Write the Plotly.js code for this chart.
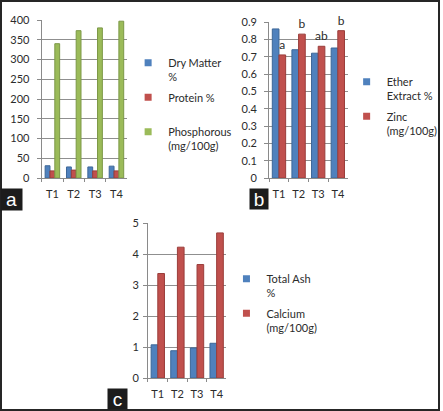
<!DOCTYPE html>
<html><head><meta charset="utf-8">
<script src="https://cdn.plot.ly/plotly-3.0.1.min.js"></script>
<style>html,body{margin:0;padding:0;background:#fff}#chart{width:443px;height:411px}</style>
</head><body><div id="chart"></div>
<script>
// ---- data ----
const treatments = ['T1', 'T2', 'T3', 'T4'];
// panel a
const dryMatter = [31, 28, 28, 30];
const protein = [18, 20, 18, 18];
const phosphorous = [340, 373, 380, 397];
const namesA = ['Dry Matter<br>%', 'Protein %<br>&nbsp;', 'Phosphorous<br>(mg/100g)'];
// panel b
const etherExtract = [0.86, 0.74, 0.72, 0.75];
const zinc = [0.71, 0.83, 0.76, 0.85];
const zincLetters = ['a', 'b', 'ab', 'b'];
const namesB = ['Ether<br>Extract %', 'Zinc<br>(mg/100g)'];
// panel c
const totalAsh = [1.07, 0.88, 0.97, 1.12];
const calcium = [3.37, 4.22, 3.66, 4.68];
const namesC = ['Total Ash<br>%', 'Calcium<br>(mg/100g)'];
const panelLabels = ['a', 'b', 'c'];

// ---- styles ----
const BLUE = '#4F81BD', RED = '#C0504D', GREEN = '#9BBB59';
const EDGE = {[BLUE]: '#3d6797', [RED]: '#9a3d3a', [GREEN]: '#7c9846'};
const FONT = 'Lato, "Open Sans", "Liberation Sans", sans-serif';
const TXT = '#2b2b2b';

function bar(y, color, xa, ya, extra) {
  return Object.assign({
    type: 'bar', x: treatments, y: y, xaxis: xa, yaxis: ya,
    marker: {color: color, line: {color: EDGE[color], width: 1}},
    showlegend: false, hoverinfo: 'x+y'
  }, extra || {});
}
function key(name, color, xa, ya, legend) {
  return {type: 'scatter', mode: 'markers', x: [null], y: [null], xaxis: xa, yaxis: ya,
    name: name, legend: legend, legendgroup: name,
    marker: {symbol: 'square', size: 7, color: color}, hoverinfo: 'skip'};
}

const traces = [
  bar(dryMatter, BLUE, 'x', 'y'),
  bar(protein, RED, 'x', 'y'),
  bar(phosphorous, GREEN, 'x', 'y'),
  bar(etherExtract, BLUE, 'x2', 'y2'),
  bar(zinc, RED, 'x2', 'y2', {text: zincLetters, textposition: 'outside', cliponaxis: false,
      constraintext: 'none', textfont: {family: FONT, size: 12, color: TXT}}),
  bar(totalAsh, BLUE, 'x3', 'y3'),
  bar(calcium, RED, 'x3', 'y3'),
  key(namesA[0], BLUE, 'x', 'y', 'legend'),
  key(namesA[1], RED, 'x', 'y', 'legend'),
  key(namesA[2], GREEN, 'x', 'y', 'legend'),
  key(namesB[0], BLUE, 'x2', 'y2', 'legend2'),
  key(namesB[1], RED, 'x2', 'y2', 'legend2'),
  key(namesC[0], BLUE, 'x3', 'y3', 'legend3'),
  key(namesC[1], RED, 'x3', 'y3', 'legend3')
];

const W = 443, H = 411;
const px = v => v / W, py = v => 1 - v / H;

function xAxis(l, r, anchor) {
  return {domain: [px(l), px(r)], anchor: anchor, type: 'category',
    showline: true, linecolor: '#8a8a8a', linewidth: 1,
    ticks: 'outside', ticklen: 3, tickcolor: '#8a8a8a', tickson: 'boundaries',
    tickangle: 0, ticklabelstandoff: 6, showgrid: false,
    tickfont: {family: FONT, size: 11, color: TXT}, fixedrange: true};
}
function yAxis(t, b, anchor, range, dtick, standoff) {
  return {domain: [py(b), py(t)], anchor: anchor, range: range, dtick: dtick,
    showline: true, linecolor: '#8a8a8a', linewidth: 1,
    ticks: 'outside', ticklen: 4, tickcolor: '#8a8a8a',
    showgrid: true, gridcolor: '#8f8f8f', gridwidth: 1, zeroline: false,
    ticklabelstandoff: standoff,
    tickfont: {family: FONT, size: 11, color: TXT}, fixedrange: true};
}
function legendAt(l, t) {
  return {x: px(l), y: py(t), xanchor: 'left', yanchor: 'top', bgcolor: 'rgba(0,0,0,0)',
    borderwidth: 0, valign: 'top', tracegroupgap: 3, itemclick: false, itemdoubleclick: false,
    font: {family: FONT, size: 11, color: TXT}};
}
function tag(text, l, t, w, h) {
  return {text: text, xref: 'paper', yref: 'paper', x: px(l), y: py(t),
    xanchor: 'left', yanchor: 'top', showarrow: false, width: w, height: h,
    bgcolor: '#1c1c1c', borderpad: 0, align: 'center', valign: 'middle',
    font: {family: '"Liberation Sans", Arial, sans-serif', size: 19, color: '#ffffff'}};
}

const layout = {
  width: W, height: H, margin: {l: 0, r: 0, t: 0, b: 0},
  paper_bgcolor: '#fff', plot_bgcolor: 'rgba(0,0,0,0)',
  barmode: 'group', bargap: 0.32, bargroupgap: 0,
  font: {family: FONT, color: TXT},
  xaxis: xAxis(42, 128, 'y'),
  yaxis: yAxis(20, 178, 'x', [0, 400], 50, 5),
  xaxis2: xAxis(271, 350, 'y2'),
  yaxis2: yAxis(22, 178, 'x2', [0, 0.9], 0.1, 5),
  xaxis3: xAxis(149, 228, 'y3'),
  yaxis3: yAxis(223, 378, 'x3', [0, 5], 1, 2),
  legend: legendAt(129, 49),
  legend2: legendAt(349, 68),
  legend3: legendAt(228, 265),
  annotations: [
    tag(panelLabels[0], 0, 188, 21, 21),
    tag(panelLabels[1], 251, 188, 18, 20),
    tag(panelLabels[2], 108, 388, 19, 20)
  ],
  shapes: [{type: 'rect', xref: 'paper', yref: 'paper', x0: 1 / W, x1: 1 - 1 / W, y0: 1 / H, y1: 1 - 1 / H,
    line: {color: '#262626', width: 2}, fillcolor: 'rgba(0,0,0,0)'}]
};

Plotly.newPlot('chart', traces, layout, {displayModeBar: false, staticPlot: true});
</script>
</body></html>
